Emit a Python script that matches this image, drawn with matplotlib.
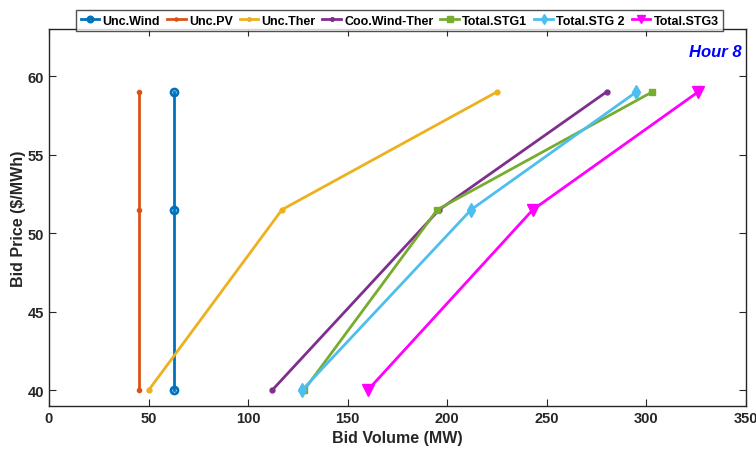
import numpy as np
import matplotlib
matplotlib.use('Agg')
import matplotlib.pyplot as plt

plt.rcParams['font.family'] = ['Liberation Sans', 'DejaVu Sans']
plt.rcParams['font.weight'] = 'bold'

price = [40, 51.5, 59]

unc_wind = [63, 63, 63]
unc_pv = [45, 45, 45]
unc_ther = [50, 117, 225]
coo_wind_ther = [112, 196, 280]
total_stg1 = [128, 195, 303]
total_stg2 = [127, 212, 295]
total_stg3 = [160, 243, 326]

fig = plt.figure(figsize=(7.56, 4.60), dpi=100)
ax = fig.add_axes([0.0648, 0.1152, 0.922, 0.8196])

lw = 2.0
ax.plot(unc_wind, price, color='#0072BD', lw=lw, marker='o', ms=5, mfc='none', mew=2, label='Unc.Wind')
ax.plot(unc_pv, price, color='#D95319', lw=lw, marker='.', ms=6, label='Unc.PV')
ax.plot(unc_ther, price, color='#EDB120', lw=lw, marker='.', ms=7, label='Unc.Ther')
ax.plot(coo_wind_ther, price, color='#7E2F8E', lw=lw, marker='.', ms=7, label='Coo.Wind-Ther')
ax.plot(total_stg1, price, color='#77AC30', lw=lw, marker='s', ms=5, label='Total.STG1')
ax.plot(total_stg2, price, color='#4DBEEE', lw=lw, marker='d', ms=7, label='Total.STG 2')
ax.plot(total_stg3, price, color='#FF00FF', lw=lw, marker='v', ms=8, label='Total.STG3')

ax.set_xlim(0, 350)
ax.set_ylim(39, 63)
ax.set_xticks(np.arange(0, 351, 50))
ax.set_yticks(np.arange(40, 61, 5))
ax.tick_params(direction='in', top=True, right=True, labelsize=10.5, length=5, width=0.8, colors='#262626')
for s in ax.spines.values():
    s.set_color('#262626')
    s.set_linewidth(1.0)

ax.set_xlabel('Bid Volume (MW)', fontsize=11.5, fontweight='bold', color='#262626')
ax.set_ylabel('Bid Price (\\$/MWh)', fontsize=11.5, fontweight='bold', color='#262626', labelpad=1)

ax.text(0.993, 0.96, 'Hour 8', transform=ax.transAxes, ha='right', va='top',
        color='blue', fontsize=12, fontweight='bold', style='italic')

leg = ax.legend(loc='lower center', bbox_to_anchor=(0.503, 0.995), ncol=7, fontsize=9.0,
                handlelength=1.5, handletextpad=0.25, columnspacing=0.55, borderpad=0.35,
                markerscale=0.75, frameon=True, fancybox=False, edgecolor='#262626',
                borderaxespad=0)
leg.get_frame().set_linewidth(1.0)

fig.savefig('out.png', dpi=100)
